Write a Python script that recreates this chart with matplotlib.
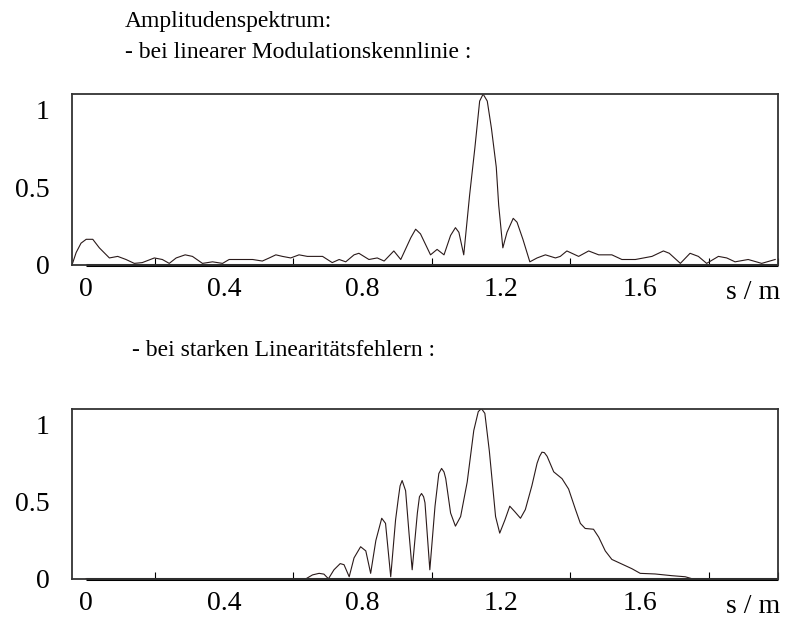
import numpy as np
import matplotlib
matplotlib.use("Agg")
import matplotlib.pyplot as plt

plt.rcParams['font.family'] = ['Liberation Serif', 'DejaVu Serif']

# spectrum with linear modulation characteristic
s_lin = [-0.040, -0.028, -0.014, 0.001, 0.020, 0.039, 0.068, 0.092, 0.116, 0.140,
         0.163, 0.198, 0.221, 0.241, 0.261, 0.287, 0.308, 0.337, 0.366, 0.395,
         0.414, 0.443, 0.482, 0.510, 0.530, 0.549, 0.568, 0.592, 0.616, 0.640,
         0.664, 0.684, 0.712, 0.732, 0.751, 0.775, 0.789, 0.818, 0.842, 0.862,
         0.890, 0.910, 0.939, 0.953, 0.967, 0.996, 1.015, 1.035, 1.054, 1.068,
         1.078, 1.092, 1.109, 1.124, 1.138, 1.148, 1.160, 1.172, 1.186, 1.193,
         1.205, 1.217, 1.235, 1.246, 1.263, 1.283, 1.304, 1.328, 1.357, 1.371,
         1.390, 1.424, 1.453, 1.482, 1.520, 1.549, 1.588, 1.636, 1.669, 1.686,
         1.718, 1.746, 1.770, 1.794, 1.828, 1.852, 1.876, 1.914, 1.953, 1.992]
a_lin = [0.0, 0.08, 0.14, 0.165, 0.165, 0.11, 0.045, 0.055, 0.035, 0.01,
         0.015, 0.045, 0.035, 0.01, 0.045, 0.065, 0.055, 0.01, 0.02, 0.01,
         0.035, 0.035, 0.035, 0.025, 0.045, 0.065, 0.055, 0.045, 0.065, 0.055,
         0.055, 0.055, 0.015, 0.035, 0.02, 0.065, 0.075, 0.035, 0.045, 0.025,
         0.09, 0.035, 0.175, 0.23, 0.2, 0.065, 0.1, 0.065, 0.19, 0.24,
         0.21, 0.065, 0.45, 0.75, 1.055, 1.1, 1.055, 0.88, 0.63, 0.385,
         0.11, 0.21, 0.3, 0.275, 0.165, 0.02, 0.045, 0.065, 0.045, 0.055,
         0.09, 0.055, 0.09, 0.065, 0.065, 0.035, 0.035, 0.055, 0.09, 0.075,
         0.01, 0.075, 0.055, 0.01, 0.055, 0.045, 0.02, 0.035, 0.01, 0.035]

# spectrum with strong linearity errors
s_err = [0.0, 0.620, 0.636, 0.655, 0.674, 0.688, 0.701, 0.717, 0.735, 0.746,
         0.761, 0.775, 0.794, 0.809, 0.823, 0.838, 0.855, 0.866, 0.881, 0.895,
         0.903, 0.908, 0.914, 0.924, 0.934, 0.943, 0.958, 0.964, 0.970, 0.976,
         0.980, 0.994, 1.009, 1.020, 1.028, 1.035, 1.040, 1.054, 1.068, 1.083,
         1.102, 1.121, 1.134, 1.143, 1.153, 1.166, 1.184, 1.196, 1.211, 1.225,
         1.239, 1.256, 1.270, 1.289, 1.304, 1.311, 1.318, 1.325, 1.333, 1.352,
         1.376, 1.395, 1.415, 1.429, 1.443, 1.467, 1.482, 1.501, 1.520, 1.549,
         1.578, 1.602, 1.645, 1.693, 1.732, 1.749]
a_err = [0.0, 0.0, 0.0, 0.025, 0.035, 0.03, 0.0, 0.058, 0.098, 0.091,
         0.013, 0.135, 0.207, 0.18, 0.035, 0.247, 0.391, 0.358, 0.013, 0.38,
         0.52, 0.60, 0.635, 0.569, 0.291, 0.058, 0.425, 0.53, 0.551, 0.53,
         0.491, 0.058, 0.469, 0.68, 0.713, 0.69, 0.647, 0.425, 0.34, 0.402,
         0.625, 0.958, 1.08, 1.1, 1.069, 0.825, 0.402, 0.295, 0.38, 0.469,
         0.435, 0.391, 0.447, 0.602, 0.747, 0.79, 0.818, 0.815, 0.791, 0.691,
         0.647, 0.58, 0.447, 0.358, 0.325, 0.32, 0.269, 0.18, 0.125, 0.095,
         0.065, 0.035, 0.031, 0.02, 0.013, 0.002]

x_labels = [0, 0.4, 0.8, 1.2, 1.6]
x_label_text = ['0', '0.4', '0.8', '1.2', '1.6']
x_minor = [0.2, 0.4, 0.6, 0.8, 1.0, 1.2, 1.4, 1.6, 1.8, 2.0]
y_ticks = [0, 0.5, 1]
y_tick_text = ['0', '0.5', '1']

line_col = '#2a1a1a'
frame_col = '#333333'
fs = 20
title_fs = 17

fig = plt.figure(figsize=(7.87, 6.19), dpi=100)
ax1 = fig.add_axes([0.0915, 0.572, 0.897, 0.276])
ax2 = fig.add_axes([0.0915, 0.065, 0.897, 0.275])

for ax, s, a in [(ax1, s_lin, a_lin), (ax2, s_err, a_err)]:
    ax.plot(s, a, color=line_col, lw=0.8)
    ax.hlines(0, 0, x_minor[-1], color='black', lw=2.2, clip_on=False)
    ax.set_xlim(-0.04, 2.0)
    ax.set_ylim(0, 1.1)
    ax.set_xticks(x_labels)
    ax.set_xticklabels(x_label_text)
    ax.set_xticks(x_minor, minor=True)
    ax.tick_params(axis='x', which='major', length=0, pad=9, labelsize=fs)
    ax.tick_params(axis='x', which='minor', length=5, direction='in', width=0.8)
    ax.set_yticks(y_ticks)
    ax.set_yticklabels(y_tick_text)
    ax.tick_params(axis='y', length=0, pad=16, labelsize=fs)
    for sp in ax.spines.values():
        sp.set_color(frame_col)
        sp.set_linewidth(1.3)
    ax.annotate('s / m', xy=(0.965, 0), xycoords='axes fraction',
                xytext=(0, -20), textcoords='offset points',
                ha='center', va='center', fontsize=fs)

fig.text(125 / 787, 1 - 22 / 619, 'Amplitudenspektrum:', fontsize=title_fs, va='center')
fig.text(125 / 787, 1 - 52 / 619, '- bei linearer Modulationskennlinie :', fontsize=title_fs, va='center')
fig.text(132 / 787, 1 - 350 / 619, '- bei starken Linearitätsfehlern :', fontsize=title_fs, va='center')

fig.savefig('out.png', dpi=100)
